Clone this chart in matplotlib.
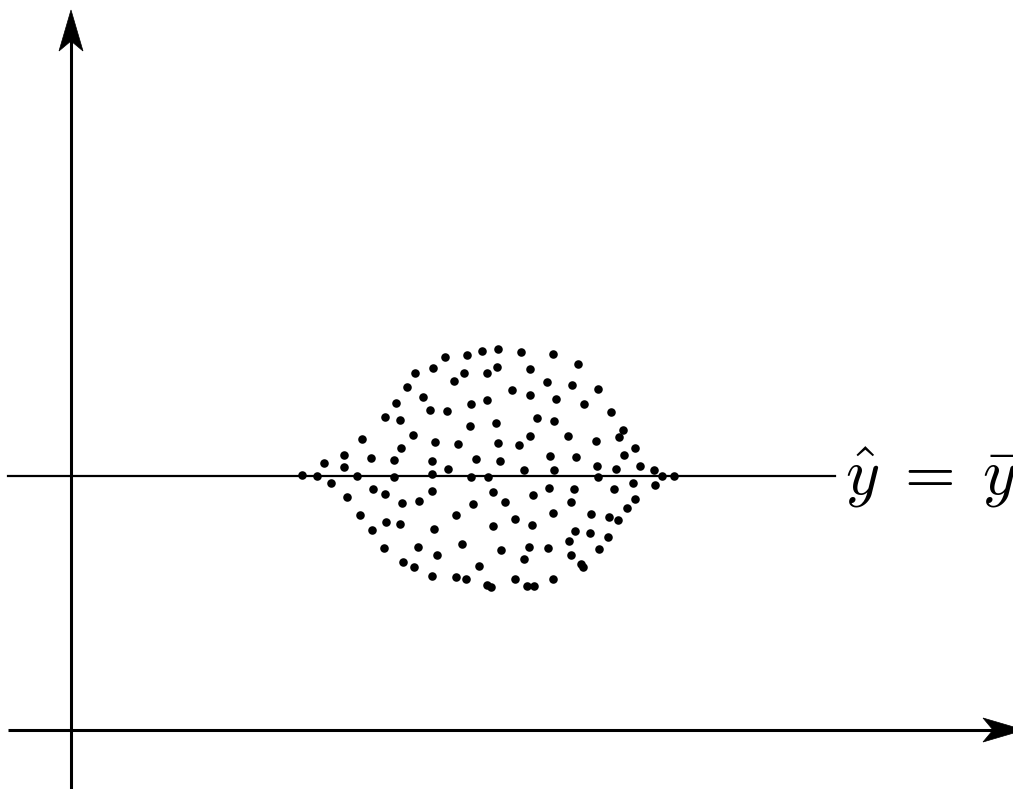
import matplotlib
matplotlib.use("Agg")
import matplotlib.pyplot as plt
from matplotlib.patches import Polygon
import numpy as np

plt.rcParams["mathtext.fontset"] = "cm"

# Scatter of observations around the constant prediction line
x = [344, 336, 352, 325, 314, 329, 342, 291, 330, 273, 253, 300, 323, 273, 231, 246,
     260, 286, 323, 374, 396, 411, 427, 450, 482, 362, 393, 416, 426, 459, 383, 476,
     441, 459, 359, 376, 400, 416, 485, 399, 425, 466, 483, 364, 387, 427, 448, 459,
     479, 361, 377, 405, 429, 453, 483, 361, 400, 417, 507, 501, 527, 513, 540, 552,
     548, 497, 525, 564, 553, 505, 526, 545, 569, 583, 527, 562, 591, 603, 302, 314,
     331, 348, 276, 289, 315, 329, 301, 313, 347, 332, 343, 361, 422, 402, 434, 462,
     478, 385, 482, 444, 422, 461, 363, 391, 430, 458, 477, 366, 453, 408, 361, 385,
     395, 416, 420, 444, 456, 463, 482, 503, 543, 584, 564, 556, 500, 520, 538, 547,
     504, 498, 519, 537, 500, 528, 510, 512]
y = [357, 343, 333, 327, 313, 310, 295, 291, 282, 275, 267, 272, 270, 263, 255, 254,
     247, 254, 253, 373, 375, 379, 381, 378, 376, 362, 357, 357, 363, 361, 349, 348,
     340, 335, 320, 319, 326, 330, 331, 304, 307, 312, 309, 288, 286, 287, 285, 294,
     274, 269, 261, 271, 269, 260, 260, 256, 253, 253, 366, 345, 341, 326, 318, 300,
     293, 294, 289, 282, 275, 273, 264, 261, 264, 260, 253, 247, 254, 254, 241, 236,
     227, 229, 233, 215, 208, 206, 200, 182, 183, 168, 163, 239, 238, 226, 228, 235,
     242, 215, 217, 211, 204, 205, 201, 186, 180, 183, 182, 175, 171, 164, 154, 153,
     151, 145, 143, 151, 144, 144, 151, 241, 241, 245, 231, 222, 228, 216, 213, 210,
     199, 189, 197, 193, 175, 181, 166, 163]
y_mean = 254
line_label = r"$\hat{y}\;=\;\bar{y}$"

fig = plt.figure(figsize=(10.13, 7.89), dpi=100)
ax = fig.add_axes([0, 0, 1, 1])
ax.set_xlim(-71, 942)
ax.set_ylim(-59, 730)
ax.axis("off")


def stealth_head(ax, tip, direction, length=41, half_width=12, notch=31):
    d = np.asarray(direction, float)
    d /= np.linalg.norm(d)
    n = np.array([-d[1], d[0]])
    tip = np.asarray(tip, float)
    back = tip - d * length
    pts = [tip, back + n * half_width, tip - d * notch, back - n * half_width]
    ax.add_patch(Polygon(pts, closed=True, facecolor="black", edgecolor="black",
                         linewidth=0.5, clip_on=True))


# coordinate axes
ax.plot([0, 0], [-59, 700], color="black", lw=2.2, solid_capstyle="butt")
stealth_head(ax, (0, 720), (0, 1))
ax.plot([-63, 930], [0, 0], color="black", lw=2.2, solid_capstyle="butt")
stealth_head(ax, (953, 0), (1, 0))

# constant prediction line
ax.plot([-63, 764], [y_mean, y_mean], color="black", lw=1.6)
ax.text(774, 236, line_label, fontsize=47, ha="left", va="baseline")

ax.scatter(x, y, s=38, color="black", linewidths=0, zorder=3)

fig.savefig("out.png", dpi=100)
